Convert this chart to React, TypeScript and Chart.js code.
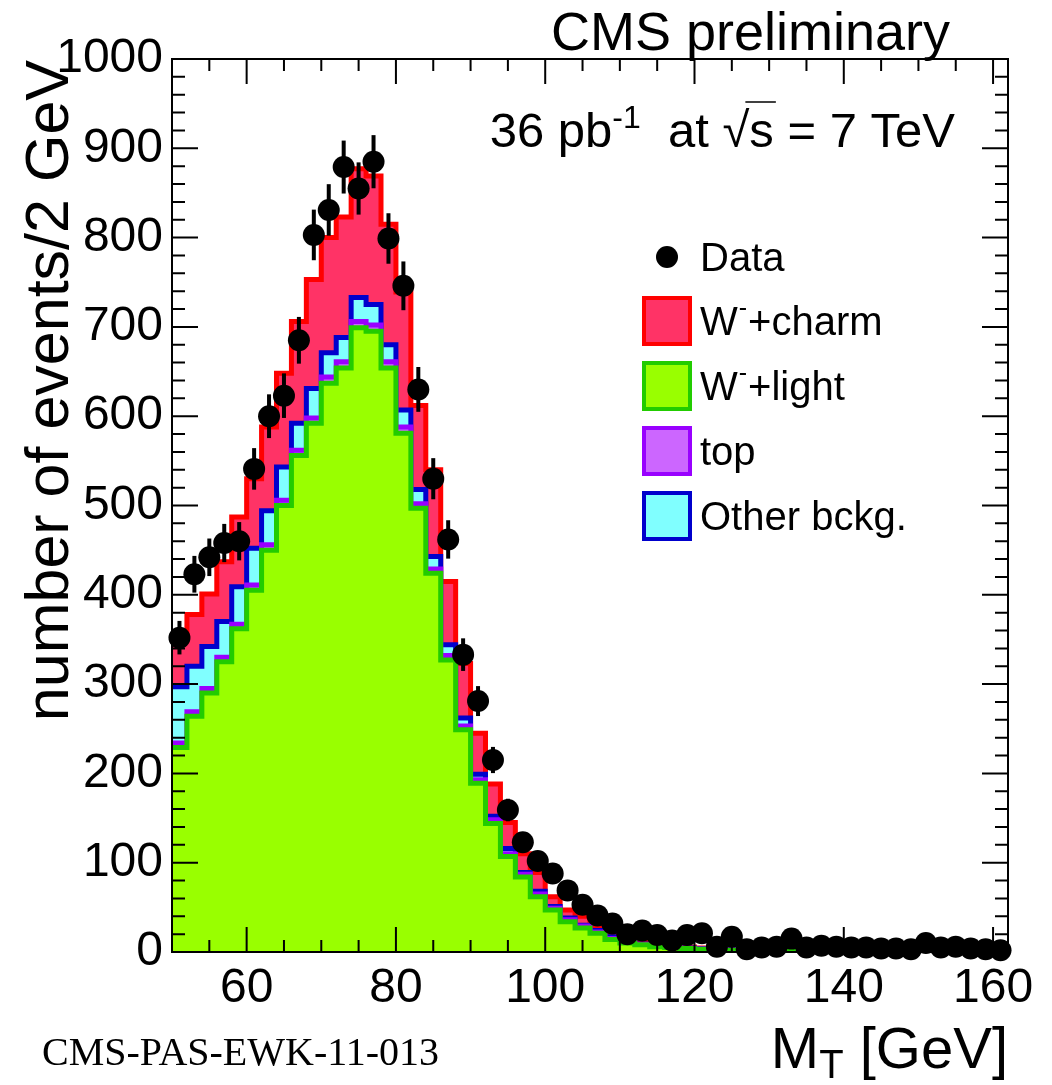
import React, { useEffect, useRef } from "react";
import { Chart, registerables } from "chart.js";

Chart.register(...registerables);

// ---- Data ----
const binLow = [
  50, 52, 54, 56, 58, 60, 62, 64, 66, 68, 70, 72, 74, 76, 78, 80, 82, 84, 86, 88,
  90, 92, 94, 96, 98, 100, 102, 104, 106, 108, 110, 112, 114, 116, 118, 120, 122, 124, 126, 128,
  130, 132, 134, 136, 138, 140, 142, 144, 146, 148, 150, 152, 154, 156, 158, 160,
];
const binHigh = 162;

const wLight = [
  229, 264, 290, 325, 362, 405, 450, 500, 556, 592, 637, 654, 699, 695, 654, 581, 497, 424, 327, 249,
  189, 144, 107, 84, 62, 47, 34, 27, 21, 14, 10, 8, 6, 5, 4, 3, 2.5, 2, 1.6, 1.3,
  1.0, 0.8, 0.7, 0.6, 0.5, 0, 0, 0, 0, 0, 0, 0, 0, 0, 0, 0,
];
const topQ = [
  5, 5, 5, 5, 5, 6, 6, 6, 6, 6, 7, 7, 7, 7, 7, 7, 5, 5, 5, 4,
  4, 4, 3, 3, 3, 2, 2, 2, 1.5, 1, 1, 0.5, 0.5, 0.4, 0.3, 0.3, 0.2, 0.2, 0.1, 0.1,
  0.1, 0.1, 0.1, 0, 0, 0, 0, 0, 0, 0, 0, 0, 0, 0, 0, 0,
];
const otherBkg = [
  63, 51, 47, 40, 42, 41, 38, 37, 30, 33, 27, 27, 27, 23, 19, 19, 16, 14, 12, 9,
  6, 4, 6, 2, 3, 2, 2, 1, 1.5, 2, 1, 0.5, 0.5, 0.6, 0.3, 0.3, 0.3, 0.2, 0.2, 0.1,
  0.1, 0.1, 0.1, 0.1, 0.1, 0, 0, 0, 0, 0, 0, 0, 0, 0, 0, 0,
];
const wCharm = [
  53, 58, 59, 67, 78, 78, 94, 105, 114, 122, 129, 135, 144, 144, 135, 132, 94, 97, 71, 61,
  46, 36, 29, 21, 21, 11, 9, 10, 4, 4, 3, 2, 2, 1, 0.9, 0.9, 0.6, 0.6, 0.5, 0.4,
  0.3, 0.2, 0.2, 0.2, 0.1, 0, 0, 0, 0, 0, 0, 0, 0, 0, 0, 0,
];

const dataX = [
  51, 53, 55, 57, 59, 61, 63, 65, 67, 69, 71, 73, 75, 77, 79, 81, 83, 85, 87, 89,
  91, 93, 95, 97, 99, 101, 103, 105, 107, 109, 111, 113, 115, 117, 119, 121, 123, 125, 127, 129,
  131, 133, 135, 137, 139, 141, 143, 145, 147, 149, 151, 153, 155, 157, 159, 161,
];
const dataY = [
  352, 423, 442, 458, 460, 541, 600, 623, 685, 803, 831, 879, 855, 885, 799, 746, 630, 530, 462, 333,
  281, 215, 159, 123, 102, 88, 69, 53, 41, 32, 20, 24, 19, 13, 19, 21, 6, 17, 3, 5,
  6, 15, 5, 7, 6, 5, 5, 4, 4, 3, 10, 5, 6, 4, 3, 2,
];

const xTickValues = [60, 80, 100, 120, 140, 160];
const yTickValues = [0, 100, 200, 300, 400, 500, 600, 700, 800, 900, 1000];

const legendItems = [
  { kind: "dot", label: "Data", sup: "", rest: "" },
  { kind: "box", label: "W", sup: "-", rest: "+charm", fill: "#ff3366", line: "#ff0000" },
  { kind: "box", label: "W", sup: "-", rest: "+light", fill: "#99ff00", line: "#22cc00" },
  { kind: "box", label: "top", sup: "", rest: "", fill: "#cc66ff", line: "#9900ff" },
  { kind: "box", label: "Other bckg.", sup: "", rest: "", fill: "#80ffff", line: "#0000cc" },
];

const SANS = '"Liberation Sans", Arial, Helvetica, sans-serif';

function cumulative(...arrs: number[][]): number[] {
  return arrs[0].map((_, i) => arrs.reduce((s, a) => s + a[i], 0));
}

function stepPoints(vals: number[]) {
  const pts = binLow.map((x, i) => ({ x, y: vals[i] }));
  pts.push({ x: binHigh, y: vals[vals.length - 1] });
  return pts;
}

const hideZero = {
  borderColor: (ctx: any) =>
    ctx.p0.parsed.y <= 0.01 && ctx.p1.parsed.y <= 0.01 ? "rgba(0,0,0,0)" : undefined,
};

const decorPlugin = {
  id: "decor",
  afterDatasetsDraw(chart: any) {
    const { ctx, chartArea: a, scales } = chart;
    const xs = scales.x;
    const ys = scales.y;
    ctx.save();
    // error bars
    ctx.strokeStyle = "#000";
    ctx.lineWidth = 4;
    dataX.forEach((x, i) => {
      const v = dataY[i];
      const e = Math.sqrt(v);
      const px = xs.getPixelForValue(x);
      ctx.beginPath();
      ctx.moveTo(px, ys.getPixelForValue(Math.max(0, v - e)));
      ctx.lineTo(px, ys.getPixelForValue(v + e));
      ctx.stroke();
    });
    // frame
    ctx.lineWidth = 2;
    ctx.strokeRect(a.left, a.top, a.right - a.left, a.bottom - a.top);
    // y ticks
    for (let v = 0; v <= 1000; v += 20) {
      const py = ys.getPixelForValue(v);
      const len = v % 100 === 0 ? 26 : 13;
      ctx.beginPath();
      ctx.moveTo(a.left, py);
      ctx.lineTo(a.left + len, py);
      ctx.moveTo(a.right, py);
      ctx.lineTo(a.right - len, py);
      ctx.stroke();
    }
    for (let v = 55; v <= 162; v += 5) {
      const px = xs.getPixelForValue(v);
      const len = v % 20 === 0 ? 25 : 12;
      ctx.beginPath();
      ctx.moveTo(px, a.bottom);
      ctx.lineTo(px, a.bottom - len);
      ctx.moveTo(px, a.top);
      ctx.lineTo(px, a.top + len);
      ctx.stroke();
    }
    ctx.restore();
  },
  afterDraw(chart: any) {
    const { ctx } = chart;
    ctx.save();
    ctx.fillStyle = "#000";
    ctx.strokeStyle = "#000";
    ctx.textBaseline = "alphabetic";

    // CMS preliminary
    ctx.font = `54px ${SANS}`;
    ctx.textAlign = "right";
    ctx.fillText("CMS preliminary", 950, 50);

    // lumi text
    ctx.textAlign = "left";
    const big = `49px ${SANS}`;
    const small = `32px ${SANS}`;
    const pieces: [string, string, number][] = [
      ["36 pb", big, 0],
      ["-1", small, -19],
      ["  at ", big, 0],
      ["\u221A", big, 0],
      ["s", big, 0],
      [" = 7 TeV", big, 0],
    ];
    let total = 0;
    pieces.forEach(([t, f]) => {
      ctx.font = f;
      total += ctx.measureText(t).width;
    });
    let cx = 955 - total;
    const base = 147;
    pieces.forEach(([t, f, dy]) => {
      ctx.font = f;
      const w = ctx.measureText(t).width;
      ctx.fillText(t, cx, base + dy);
      if (t === "s") {
        ctx.lineWidth = 1.5;
        ctx.beginPath();
        ctx.moveTo(cx - 4, base - 45);
        ctx.lineTo(cx + w + 2, base - 45);
        ctx.stroke();
      }
      cx += w;
    });

    // legend
    const rows = [257, 321, 386, 451, 516];
    legendItems.forEach((it, i) => {
      const cy = rows[i];
      if (it.kind === "dot") {
        ctx.fillStyle = "#000";
        ctx.beginPath();
        ctx.arc(667, cy, 11, 0, Math.PI * 2);
        ctx.fill();
      } else {
        ctx.fillStyle = (it as any).fill;
        ctx.fillRect(644, cy - 23, 46, 46);
        ctx.strokeStyle = (it as any).line;
        ctx.lineWidth = 4;
        ctx.strokeRect(644, cy - 23, 46, 46);
      }
      ctx.fillStyle = "#000";
      ctx.font = `40px ${SANS}`;
      let tx = 700;
      ctx.fillText(it.label, tx, cy + 14);
      tx += ctx.measureText(it.label).width;
      if (it.sup) {
        ctx.font = `25px ${SANS}`;
        ctx.fillText(it.sup, tx + 1, cy - 5);
        tx += ctx.measureText(it.sup).width + 2;
        ctx.font = `40px ${SANS}`;
        ctx.fillText(it.rest, tx, cy + 14);
      }
    });

    // y title
    ctx.save();
    ctx.translate(68, 60);
    ctx.rotate(-Math.PI / 2);
    ctx.textAlign = "right";
    ctx.font = `61px ${SANS}`;
    ctx.fillText("number of events/2 GeV", 0, 0);
    ctx.restore();

    // x title
    ctx.textAlign = "left";
    const xt: [string, string, number][] = [
      ["M", `58px ${SANS}`, 0],
      ["T", `40px ${SANS}`, 10],
      [" [GeV]", `58px ${SANS}`, 0],
    ];
    let tw = 0;
    xt.forEach(([t, f]) => {
      ctx.font = f;
      tw += ctx.measureText(t).width;
    });
    let xx = 1008 - tw;
    xt.forEach(([t, f, dy]) => {
      ctx.font = f;
      ctx.fillText(t, xx, 1068 + dy);
      xx += ctx.measureText(t).width;
    });

    // reference
    ctx.font = `40px "Liberation Serif", "Times New Roman", serif`;
    ctx.fillText("CMS-PAS-EWK-11-013", 42, 1065);
    ctx.restore();
  },
};

export default function App() {
  const ref = useRef<HTMLCanvasElement | null>(null);
  useEffect(() => {
    if (!ref.current) return;
    const sLight = cumulative(wLight);
    const sTop = cumulative(wLight, topQ);
    const sOther = cumulative(wLight, topQ, otherBkg);
    const sCharm = cumulative(wLight, topQ, otherBkg, wCharm);

    const histDs = (vals: number[], fill: string, line: string) => ({
      type: "line" as const,
      data: stepPoints(vals),
      stepped: "before" as const,
      fill: "origin",
      backgroundColor: fill,
      borderColor: line,
      borderWidth: 5,
      pointRadius: 0,
      segment: hideZero,
    });

    const chart = new Chart(ref.current, {
      type: "line",
      data: {
        datasets: [
          {
            type: "line",
            data: dataX.map((x, i) => ({ x, y: dataY[i] })),
            showLine: false,
            pointRadius: 11,
            pointBackgroundColor: "#000",
            pointBorderWidth: 0,
            borderColor: "#000",
            clip: false,
          } as any,
          histDs(sLight, "#99ff00", "#22cc00"),
          histDs(sTop, "#cc66ff", "#9900ff"),
          histDs(sOther, "#80ffff", "#0000cc"),
          histDs(sCharm, "#ff3366", "#ff0000"),
        ],
      },
      options: {
        animation: false,
        responsive: false,
        devicePixelRatio: 1,
        layout: { padding: { top: 59, right: 44, left: 0, bottom: 0 } },
        plugins: { legend: { display: false }, tooltip: { enabled: false }, title: { display: false } },
        scales: {
          x: {
            type: "linear",
            min: 50,
            max: 162,
            grid: { display: false, drawTicks: false },
            border: { display: false },
            afterBuildTicks: (s: any) => {
              s.ticks = xTickValues.map((v) => ({ value: v }));
            },
            afterFit: (s: any) => {
              s.height = 133;
            },
            ticks: {
              color: "#000",
              font: { family: SANS, size: 48 },
              padding: 8,
              maxRotation: 0,
              autoSkip: false,
              callback: (v: any) => String(v),
            },
          },
          y: {
            type: "linear",
            min: 0,
            max: 1000,
            grid: { display: false, drawTicks: false },
            border: { display: false },
            afterBuildTicks: (s: any) => {
              s.ticks = yTickValues.map((v) => ({ value: v }));
            },
            afterFit: (s: any) => {
              s.width = 172;
            },
            ticks: {
              color: "#000",
              font: { family: SANS, size: 48 },
              padding: 9,
              autoSkip: false,
              callback: (v: any) => String(v),
            },
          },
        },
      },
      plugins: [decorPlugin],
    } as any);
    return () => chart.destroy();
  }, []);

  return (
    <div style={{ position: "absolute", left: 0, top: 0, width: 1052, height: 1085, background: "#fff" }}>
      <canvas ref={ref} width={1052} height={1085} style={{ display: "block" }} />
    </div>
  );
}
